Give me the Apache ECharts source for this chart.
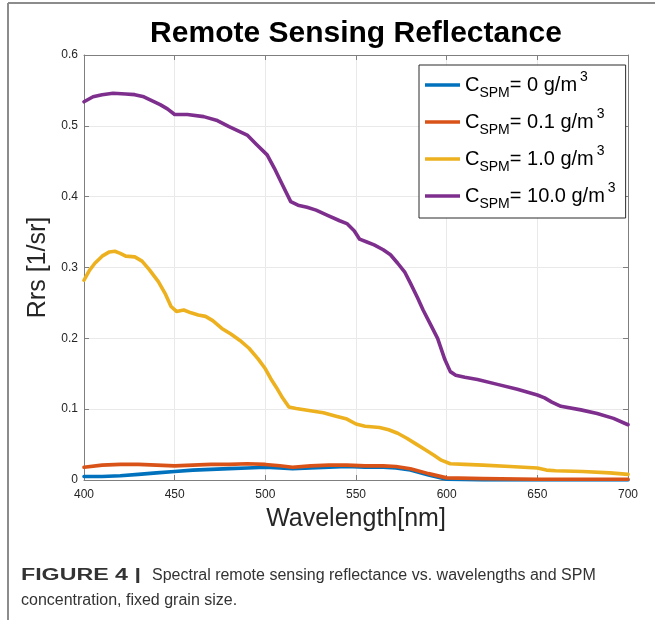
<!DOCTYPE html>
<html>
<head>
<meta charset="utf-8">
<script src="https://cdn.jsdelivr.net/npm/echarts@6/dist/echarts.min.js"></script>
<style>
  html, body { margin: 0; padding: 0; background: #fff; }
  #chart { width: 655px; height: 620px; }
</style>
</head>
<body>
<div id="chart"></div>
<script>
// ---- data ----
const titleText = 'Remote Sensing Reflectance';
const xAxisName = 'Wavelength[nm]';
const yAxisName = 'Rrs [1/sr]';
const concentrations = ['0', '0.1', '1.0', '10.0'];
const seriesColors = ['#0072BD', '#D95319', '#EDB120', '#7E2F8E'];

const blueX = [400,410,420,430,440,450,460,470,480,490,500,508,515,525,535,545,555,565,572,580,590,600,620,650,700];
const blueY = [0.005,0.005,0.006,0.008,0.010,0.012,0.014,0.015,0.016,0.017,0.018,0.017,0.016,0.017,0.018,0.019,0.018,0.018,0.017,0.014,0.007,0.001,0.000,0.000,0.000];

const redX = [400,410,420,430,440,450,460,470,480,490,500,508,515,525,535,545,555,565,572,580,590,600,620,650,700];
const redY = [0.018,0.021,0.022,0.022,0.021,0.020,0.021,0.022,0.022,0.023,0.022,0.020,0.018,0.020,0.021,0.021,0.020,0.020,0.019,0.016,0.009,0.003,0.002,0.001,0.001];

const yellowX = [400,403,406,410,414,417,420,423,428,432,436,441,445,448,451,455,459,463,467,471,476,481,486,491,496,500,503,506,509,513,517,524,532,539,545,550,555,563,568,573,578,583,588,593,597,602,610,620,635,650,655,660,675,690,700];
const yellowY = [0.282,0.296,0.306,0.316,0.322,0.323,0.320,0.316,0.315,0.309,0.297,0.280,0.262,0.245,0.238,0.240,0.236,0.233,0.231,0.225,0.214,0.206,0.197,0.186,0.171,0.157,0.143,0.131,0.118,0.103,0.101,0.098,0.095,0.090,0.086,0.079,0.076,0.074,0.071,0.066,0.059,0.051,0.043,0.035,0.028,0.023,0.022,0.021,0.019,0.017,0.014,0.013,0.012,0.010,0.008];

const purpleX = [400,405,410,416,423,428,433,442,446,450,453,457,466,473,480,490,495,501,505,509,514,518,523,528,534,541,545,549,552,556,560,565,569,573,577,580,584,587,591,595,599,602,605,610,617,628,639,650,654,658,663,674,683,692,700];
const purpleY = [0.534,0.541,0.544,0.546,0.545,0.544,0.541,0.530,0.524,0.516,0.516,0.516,0.513,0.508,0.499,0.487,0.474,0.459,0.440,0.419,0.393,0.388,0.385,0.381,0.374,0.366,0.362,0.352,0.340,0.336,0.332,0.325,0.318,0.306,0.293,0.278,0.257,0.240,0.220,0.200,0.170,0.153,0.148,0.145,0.142,0.135,0.128,0.120,0.116,0.110,0.104,0.099,0.094,0.087,0.078];

const xTicks = { min: 400, max: 700, interval: 50 };
const yTicks = { min: 0, max: 0.6, interval: 0.1 };

const captionBold = 'FIGURE 4 |';
const captionLine1 = 'Spectral remote sensing reflectance vs. wavelengths and SPM';
const captionLine2 = 'concentration, fixed grain size.';

// ---- build ----
const xs = [blueX, redX, yellowX, purpleX];
const ys = [blueY, redY, yellowY, purpleY];
const names = concentrations.map(c => 'C_SPM= ' + c + ' g/m^3');

function pairs(x, y) { return x.map((v, i) => [v, y[i]]); }

const FONT = '"Liberation Sans", Arial, Helvetica, sans-serif';
const axisGray = '#7f7f7f';
const gridGray = '#e9e9e9';

const series = names.map((n, i) => ({
  name: n,
  type: 'line',
  data: pairs(xs[i], ys[i]),
  showSymbol: false,
  symbol: 'none',
  smooth: false,
  lineStyle: { width: 3.6, color: seriesColors[i], cap: 'round', join: 'round' },
  itemStyle: { color: seriesColors[i] },
  z: 2 + i,
  animation: false
}));

const chart = echarts.init(document.getElementById('chart'), null, { renderer: 'canvas' });
chart.setOption({
  animation: false,
  backgroundColor: '#ffffff',
  title: {
    text: titleText,
    left: 351,
    top: 14,
    textAlign: 'center',
    textStyle: { fontFamily: FONT, fontWeight: 'bold', fontSize: 30, color: '#000' }
  },
  grid: { left: 84, right: 27, top: 55, bottom: 140, containLabel: false },
  legend: {
    orient: 'vertical',
    left: 419,
    top: 65,
    padding: [5, 10, 7, 6],
    itemGap: 7,
    itemWidth: 35,
    itemHeight: 3.5,
    icon: 'rect',
    backgroundColor: '#ffffff',
    borderColor: '#2b2b2b',
    borderWidth: 1,
    borderRadius: 0,
    data: names,
    formatter: function (name) {
      const i = names.indexOf(name);
      return '{c|C}{s|SPM}{c|= ' + concentrations[i] + ' g/m}{p|3}';
    },
    textStyle: {
      fontFamily: FONT, fontSize: 20, color: '#000',
      rich: {
        c: { fontFamily: FONT, fontSize: 20, lineHeight: 30, color: '#000' },
        s: { fontFamily: FONT, fontSize: 14, lineHeight: 14, verticalAlign: 'bottom', color: '#000' },
        p: { fontFamily: FONT, fontSize: 14, lineHeight: 14, verticalAlign: 'top', padding: [0, 0, 0, 3], color: '#000' }
      }
    }
  },
  xAxis: [{
    type: 'value',
    min: xTicks.min, max: xTicks.max, interval: xTicks.interval,
    name: xAxisName,
    nameLocation: 'middle',
    nameGap: 27,
    nameTextStyle: { fontFamily: FONT, fontSize: 25, color: '#262626' },
    axisLine: { show: true, onZero: false, lineStyle: { color: axisGray, width: 1 } },
    axisTick: { show: true, inside: true, length: 5, lineStyle: { color: axisGray } },
    axisLabel: { fontFamily: FONT, fontSize: 12, color: '#262626', margin: 9 },
    splitLine: { show: true, lineStyle: { color: gridGray, width: 1 } }
  }, {
    type: 'value', position: 'top',
    min: xTicks.min, max: xTicks.max, interval: xTicks.interval,
    axisLine: { show: true, onZero: false, lineStyle: { color: axisGray, width: 1 } },
    axisTick: { show: true, inside: true, length: 5, lineStyle: { color: axisGray } },
    axisLabel: { show: false },
    splitLine: { show: false }
  }],
  yAxis: [{
    type: 'value',
    min: yTicks.min, max: yTicks.max, interval: yTicks.interval,
    name: yAxisName,
    nameLocation: 'middle',
    nameGap: 31,
    nameTextStyle: { fontFamily: FONT, fontSize: 25, color: '#262626' },
    axisLine: { show: true, onZero: false, lineStyle: { color: axisGray, width: 1 } },
    axisTick: { show: true, inside: true, length: 5, lineStyle: { color: axisGray } },
    axisLabel: { fontFamily: FONT, fontSize: 12, color: '#262626', margin: 6 },
    splitLine: { show: true, lineStyle: { color: gridGray, width: 1 } }
  }, {
    type: 'value', position: 'right',
    min: yTicks.min, max: yTicks.max, interval: yTicks.interval,
    axisLine: { show: true, onZero: false, lineStyle: { color: axisGray, width: 1 } },
    axisTick: { show: true, inside: true, length: 5, lineStyle: { color: axisGray } },
    axisLabel: { show: false },
    splitLine: { show: false }
  }],
  series: series,
  graphic: [
    { type: 'line', shape: { x1: 8, y1: 3, x2: 655, y2: 3 }, style: { stroke: '#8c8c8c', lineWidth: 2 }, silent: true },
    { type: 'line', shape: { x1: 8, y1: 3, x2: 8, y2: 620 }, style: { stroke: '#8c8c8c', lineWidth: 2 }, silent: true },
    {
      type: 'text', x: 21, y: 576, scaleX: 1.45,
      style: { text: captionBold, fontFamily: FONT, fontSize: 16, fontWeight: 'bold', fill: '#333', align: 'left', verticalAlign: 'middle' }
    },
    {
      type: 'text', x: 152, y: 576,
      style: { text: captionLine1, fontFamily: FONT, fontSize: 16, fill: '#333', align: 'left', verticalAlign: 'middle' }
    },
    {
      type: 'text', x: 21, y: 601,
      style: { text: captionLine2, fontFamily: FONT, fontSize: 16, fill: '#333', align: 'left', verticalAlign: 'middle' }
    }
  ]
});
</script>
</body>
</html>
